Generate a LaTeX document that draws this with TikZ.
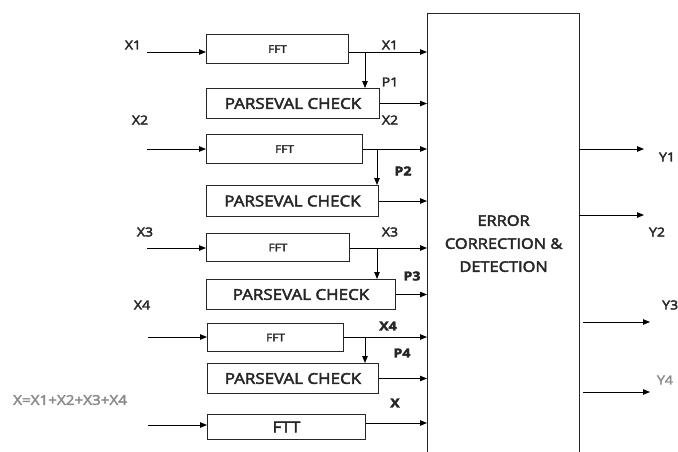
\documentclass[tikz,border=0pt]{standalone}
\usepackage{fontspec}
\setmainfont{Open Sans}[FakeStretch=1.13, FakeBold=3]
\usetikzlibrary{arrows.meta}
\definecolor{txt}{HTML}{262626}
\definecolor{grey}{HTML}{8C8C8C}
\begin{document}
\begin{tikzpicture}[x=1pt,y=-1pt,
  box/.style={draw=black!85, line width=1pt, inner sep=0pt, anchor=north west, text=txt},
  fftbox/.style={box, font=\fontsize{10.5}{11}\selectfont},
  parbox/.style={box, font=\fontsize{15}{16}\selectfont},
  arr/.style={-{Triangle[length=7pt,width=5.5pt]}, line width=0.9pt},
  lbl/.style={text=txt, inner sep=0pt, font=\fontsize{12.5}{14}\selectfont},
  blbl/.style={lbl, font=\fontsize{12.5}{14}\selectfont\bfseries},
  glbl/.style={lbl, text=grey}]
\useasboundingbox (0,0) rectangle (678,451);

% central block
\node[box, line width=1.2pt, minimum width=152pt, minimum height=460pt, font=\fontsize{14.5}{23}\selectfont, align=center] (ecd) at (427,13) {ERROR\\CORRECTION \&\\DETECTION};

% row 1
\node[fftbox, minimum width=142pt, minimum height=29pt] (f1) at (206,34) {FFT};
\node[parbox, minimum width=173pt, minimum height=30pt] (p1) at (206,88) {PARSEVAL CHECK};
\coordinate (i1) at (147,52);
\coordinate (b1) at (365,52);
\draw[arr] (i1) -- (i1 -| f1.west);
\draw[arr] (f1.east |- i1) -- (i1 -| ecd.west);
\draw[arr] (b1) -- (b1 |- p1.north);
\draw[arr] (p1.east) -- (p1.east -| ecd.west);

% row 2
\node[fftbox, minimum width=156pt, minimum height=29pt] (f2) at (206,134) {FFT};
\node[parbox, minimum width=172pt, minimum height=31pt] (p2) at (206,185) {PARSEVAL CHECK};
\coordinate (i2) at (147,149);
\coordinate (b2) at (377,149);
\draw[arr] (i2) -- (i2 -| f2.west);
\draw[arr] (f2.east |- i2) -- (i2 -| ecd.west);
\draw[arr] (b2) -- (b2 |- p2.north);
\draw[arr] (p2.east) -- (p2.east -| ecd.west);

% row 3
\node[fftbox, minimum width=143pt, minimum height=28pt] (f3) at (206,233) {FFT};
\node[parbox, minimum width=189pt, minimum height=30pt] (p3) at (206,279) {PARSEVAL CHECK};
\coordinate (i3) at (147,248);
\coordinate (b3) at (377,248);
\draw[arr] (i3) -- (i3 -| f3.west);
\draw[arr] (f3.east |- i3) -- (i3 -| ecd.west);
\draw[arr] (b3) -- (b3 |- p3.north);
\draw[arr] (p3.east) -- (p3.east -| ecd.west);

% row 4
\node[fftbox, minimum width=136pt, minimum height=28pt] (f4) at (207,323) {FFT};
\node[parbox, minimum width=171pt, minimum height=30pt] (p4) at (207,363) {PARSEVAL CHECK};
\coordinate (i4) at (148,337);
\coordinate (b4) at (365,337);
\draw[arr] (i4) -- (i4 -| f4.west);
\draw[arr] (f4.east |- i4) -- (i4 -| ecd.west);
\draw[arr] (b4) -- (b4 |- p4.north);
\draw[arr] (p4.east) -- (p4.east -| ecd.west);

% row 5
\node[parbox, minimum width=158pt, minimum height=25pt] (ft) at (207,414) {FTT};
\coordinate (i5) at (148,425);
\draw[arr] (i5) -- (i5 -| ft.west);
\draw[arr] (ft.east |- 0,423) -- (ecd.west |- 0,423);

% outputs
\coordinate (y1s) at (579,149); \coordinate (y1e) at (644,149);
\coordinate (y2s) at (579,215); \coordinate (y2e) at (644,215);
\coordinate (y3s) at (583,322); \coordinate (y3e) at (650,322);
\coordinate (y4s) at (583,392); \coordinate (y4e) at (650,392);
\draw[arr] (y1s) -- (y1e);
\draw[arr] (y2s) -- (y2e);
\draw[arr] (y3s) -- (y3e);
\draw[arr] (y4s) -- (y4e);

% labels
\node[lbl] (lx1) at (133,45) {X1};
\node[lbl] (rx1) at (390,45) {X1};
\node[lbl] (lp1) at (390,82) {P1};
\node[lbl] (lx2) at (140,120) {X2};
\node[lbl] (rx2) at (390,120) {X2};
\node[blbl] (lp2) at (403,171) {P2};
\node[lbl] (lx3) at (145,232) {X3};
\node[lbl] (rx3) at (390,232) {X3};
\node[blbl] (lp3) at (412,276) {P3};
\node[lbl] (lx4) at (142,305) {X4};
\node[blbl] (rx4) at (388,326) {X4};
\node[blbl] (lp4) at (402,353) {P4};
\node[glbl, anchor=west, font=\fontsize{13.5}{15}\selectfont] (lsum) at (13,400) {X=X1+X2+X3+X4};
\node[blbl] (lx) at (395,403) {X};
\node[lbl] (ly1) at (667,157) {Y1};
\node[lbl] (ly2) at (657,232) {Y2};
\node[lbl, anchor=west] (ly3) at (662,305) {Y3};
\node[glbl] (ly4) at (665,380) {Y4};
\end{tikzpicture}
\end{document}
